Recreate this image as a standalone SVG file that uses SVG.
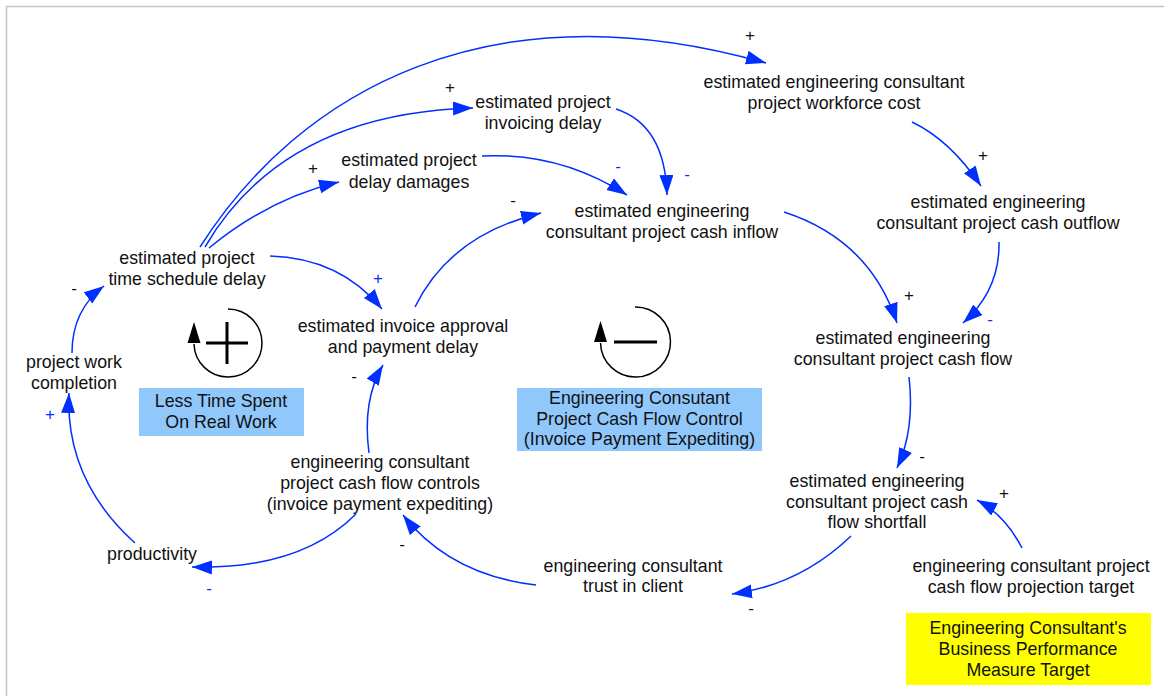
<svg xmlns="http://www.w3.org/2000/svg" width="1164" height="696" viewBox="0 0 1164 696">
<style>
  .t { font-family: "Liberation Sans", Arial, sans-serif; font-size: 17.8px; fill: #111; text-anchor: middle; }
  .s { font-family: "Liberation Sans", Arial, sans-serif; font-size: 17px; text-anchor: middle; }
  .sb { fill: #111; }
  .sl { fill: #0030ff; }
  .lk { fill: none; stroke: #0030ff; stroke-width: 1.5; marker-end: url(#ah); }
  .loop { fill: none; stroke: #000; stroke-width: 1.5; }
  .bar { stroke: #000; stroke-width: 3; }
</style>
<defs>
  <marker id="ah" markerUnits="userSpaceOnUse" markerWidth="22" markerHeight="16" refX="20" refY="7" orient="auto">
    <path d="M0,0 L20,7 L0,14 Z" fill="#0030ff"/>
  </marker>
</defs>
<rect width="1164" height="696" fill="#fff"/>
<path d="M6.5,696 V6.5 H1164" fill="none" stroke="#c4c4c4" stroke-width="1.5"/>

<g id="connectors">
  <path class="lk" d="M200,247 C300,90 490,-15 766,63"/>
  <path class="lk" d="M205,247 C250,170 330,112 473,108"/>
  <path class="lk" d="M209,248 Q270,198 339,182"/>
  <path class="lk" d="M270,256 Q340,258 382,309"/>
  <path class="lk" d="M482,156 Q560,152 627,195"/>
  <path class="lk" d="M616,109 Q665,125 667,195"/>
  <path class="lk" d="M415,307 Q450,235 541,213"/>
  <path class="lk" d="M784,212 Q870,240 897,323"/>
  <path class="lk" d="M912,122 Q950,140 981,186"/>
  <path class="lk" d="M999,242 Q1000,290 963,323"/>
  <path class="lk" d="M909,377 Q915,430 897,468"/>
  <path class="lk" d="M1022,548 Q1005,515 977,500"/>
  <path class="lk" d="M851,536 Q800,585 732,594"/>
  <path class="lk" d="M536,585 Q450,575 403,515"/>
  <path class="lk" d="M369,453 Q362,400 383,365"/>
  <path class="lk" d="M356,514 Q300,570 192,567"/>
  <path class="lk" d="M135,543 Q65,480 69,393"/>
  <path class="lk" d="M72,353 Q72,310 104,286"/>
  <text class="s sb" x="750" y="41">+</text>
  <text class="s sb" x="450" y="93">+</text>
  <text class="s sb" x="313" y="174">+</text>
  <text class="s sl" x="378" y="284">+</text>
  <text class="s sl" x="618" y="172">-</text>
  <text class="s sl" x="687" y="180">-</text>
  <text class="s sb" x="513" y="206">-</text>
  <text class="s sb" x="909" y="301">+</text>
  <text class="s sb" x="983" y="161">+</text>
  <text class="s sl" x="990" y="325">-</text>
  <text class="s sb" x="922" y="462">-</text>
  <text class="s sb" x="1004" y="499">+</text>
  <text class="s sb" x="751" y="614">-</text>
  <text class="s sb" x="402" y="550">-</text>
  <text class="s sb" x="354" y="382">-</text>
  <text class="s sl" x="209" y="594">-</text>
  <text class="s sl" x="50" y="420">+</text>
  <text class="s sb" x="74" y="294">-</text>
</g>

<g id="time-schedule-delay"><text class="t" x="187" y="264">estimated project</text><text class="t" x="187" y="285">time schedule delay</text></g>
<g id="delay-damages"><text class="t" x="409" y="166">estimated project</text><text class="t" x="409" y="188">delay damages</text></g>
<g id="invoicing-delay"><text class="t" x="543" y="108">estimated project</text><text class="t" x="543" y="129">invoicing delay</text></g>
<g id="workforce-cost"><text class="t" x="834" y="88">estimated engineering consultant</text><text class="t" x="834" y="109">project workforce cost</text></g>
<g id="cash-inflow"><text class="t" x="662" y="217">estimated engineering</text><text class="t" x="662" y="238">consultant project cash inflow</text></g>
<g id="cash-outflow"><text class="t" x="998" y="208">estimated engineering</text><text class="t" x="998" y="229">consultant project cash outflow</text></g>
<g id="cash-flow"><text class="t" x="903" y="344">estimated engineering</text><text class="t" x="903" y="365">consultant project cash flow</text></g>
<g id="shortfall"><text class="t" x="877" y="487">estimated engineering</text><text class="t" x="877" y="508">consultant project cash</text><text class="t" x="877" y="528">flow shortfall</text></g>
<g id="projection-target"><text class="t" x="1031" y="572">engineering consultant project</text><text class="t" x="1031" y="593">cash flow projection target</text></g>
<g id="trust"><text class="t" x="633" y="572">engineering consultant</text><text class="t" x="633" y="592">trust in client</text></g>
<g id="controls"><text class="t" x="380" y="468">engineering consultant</text><text class="t" x="380" y="489">project cash flow controls</text><text class="t" x="380" y="510">(invoice payment expediting)</text></g>
<g id="invoice-approval"><text class="t" x="403" y="332">estimated invoice approval</text><text class="t" x="403" y="353">and payment delay</text></g>
<g id="work-completion"><text class="t" x="74" y="368">project work</text><text class="t" x="74" y="389">completion</text></g>
<g id="productivity"><text class="t" x="152" y="560">productivity</text></g>

<g id="loop-R">
  <path class="loop" d="M228,309 A34,34 0 1 1 194,344"/>
  <path d="M194,322 L187.5,343 L200.5,343 Z" fill="#000"/>
  <path class="bar" d="M206,343 H248 M227,322 V364"/>
</g>
<g id="loop-B">
  <path class="loop" d="M635,307 A35,35 0 1 1 600.5,343"/>
  <path d="M600.5,321 L594,342 L607,342 Z" fill="#000"/>
  <path class="bar" d="M614,342 H657"/>
</g>
<g id="label-less-time">
  <rect x="139" y="388" width="165" height="48" fill="#90c8fc"/>
  <text class="t" x="221" y="407">Less Time Spent</text><text class="t" x="221" y="428">On Real Work</text>
</g>
<g id="label-cash-flow-control">
  <rect x="517" y="388" width="245" height="63" fill="#90c8fc"/>
  <text class="t" x="639.5" y="404">Engineering Consutant</text><text class="t" x="639.5" y="425">Project Cash Flow Control</text><text class="t" x="639.5" y="445">(Invoice Payment Expediting)</text>
</g>
<g id="label-target">
  <rect x="906" y="613" width="245" height="72" fill="#ffff00"/>
  <text class="t" x="1028" y="634">Engineering Consultant's</text><text class="t" x="1028" y="655">Business Performance</text><text class="t" x="1028" y="676">Measure Target</text>
</g>
</svg>
